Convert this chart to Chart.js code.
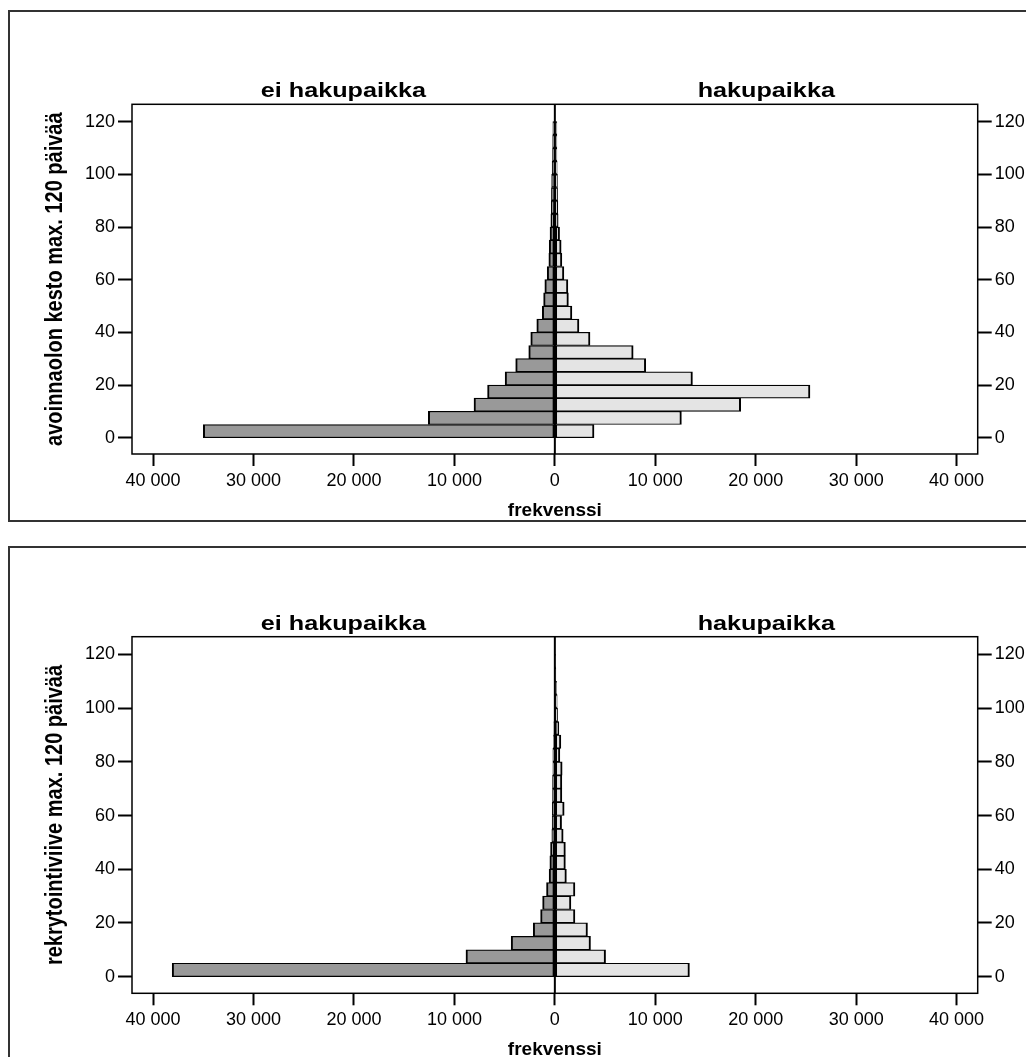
<!DOCTYPE html>
<html>
<head>
<meta charset="utf-8">
<script src="https://cdn.jsdelivr.net/npm/chart.js@4.4.1/dist/chart.umd.min.js"></script>
<style>
  html, body { margin: 0; padding: 0; background: #fff; overflow: hidden; }
  .panel { position: absolute; left: 8px; width: 1100px; border: 2px solid #333; background: #fff; }
  .panel canvas { display: block; }
</style>
</head>
<body>
<div class="panel" style="top:10px; height:508px"><canvas id="c1" width="1100" height="508"></canvas></div>
<div class="panel" style="top:546px; height:520px"><canvas id="c2" width="1100" height="520"></canvas></div>
<script>
// luokkien keskikohdat (päivää), luokan leveys 5
const binMid = [2.5, 7.5, 12.5, 17.5, 22.5, 27.5, 32.5, 37.5, 42.5, 47.5, 52.5, 57.5,
  62.5, 67.5, 72.5, 77.5, 82.5, 87.5, 92.5, 97.5, 102.5, 107.5, 112.5, 117.5];
const groupLabels = ["ei hakupaikka", "hakupaikka"];

// avoinnaolon kesto
const avoinEi = [35000, 12600, 8050, 6700, 4950, 3900, 2600, 2400, 1800, 1250, 1120, 1000,
  760, 600, 560, 480, 400, 360, 340, 320, 270, 230, 220, 200];
const avoinHaku = [3900, 12600, 18500, 25400, 13700, 9050, 7800, 3500, 2400, 1700, 1350, 1300,
  900, 700, 630, 470, 330, 300, 270, 260, 230, 200, 200, 200];

// rekrytointiviive
const rekryEi = [38100, 8850, 4350, 2150, 1420, 1220, 830, 570, 500, 430, 300, 270,
  260, 230, 230, 200, 200, 130, 100, 60, 40, 30, 40, 15];
const rekryHaku = [13400, 5050, 3550, 3250, 2000, 1600, 2000, 1150, 1050, 1050, 830, 670,
  930, 700, 700, 730, 500, 600, 400, 270, 230, 170, 100, 60];

const xTicks = [-40000, -30000, -20000, -10000, 0, 10000, 20000, 30000, 40000];
const yTicks = [0, 20, 40, 60, 80, 100, 120];

const FONT = '"Liberation Sans", Arial, Helvetica, sans-serif';

function fmt(v) {
  return String(Math.abs(v)).replace(/\B(?=(\d{3})+(?!\d))/g, " ");
}

// kehys, nollaviiva ja otsikot (SPSS-tyylinen leveä fontti)
const frame = {
  id: "frame",
  afterDatasetsDraw(chart, args, opts) {
    const { ctx, chartArea: a, scales } = chart;
    const x0 = scales.x.getPixelForValue(0);
    ctx.save();
    ctx.strokeStyle = "#000";
    ctx.lineWidth = 1.5;
    ctx.strokeRect(a.left, a.top, a.right - a.left, a.bottom - a.top);
    ctx.lineWidth = 2;
    ctx.beginPath();
    ctx.moveTo(x0, a.top);
    ctx.lineTo(x0, a.bottom);
    ctx.stroke();

    ctx.fillStyle = "#000";
    ctx.textAlign = "center";
    ctx.textBaseline = "alphabetic";
    ctx.font = "bold 20px " + FONT;
    const pos = [(a.left + x0) / 2, (x0 + a.right) / 2];
    groupLabels.forEach((t, i) => {
      ctx.save();
      ctx.translate(pos[i], a.top - 7);
      ctx.scale(1.26, 1);
      ctx.fillText(t, 0, 0);
      ctx.restore();
    });

    // y-akselin otsikko
    ctx.save();
    ctx.font = "bold 20px " + FONT;
    ctx.textBaseline = "middle";
    ctx.translate(46, (a.top + a.bottom) / 2);
    ctx.scale(1.15, 1);
    ctx.rotate(-Math.PI / 2);
    ctx.fillText(opts.yTitle, 0, 0);
    ctx.restore();
    ctx.restore();
  },
};

function yAxis(position) {
  return {
    type: "linear",
    position: position,
    min: -6.2,
    max: 126.6,
    stacked: true,
    offset: false,
    afterBuildTicks: (axis) => { axis.ticks = yTicks.map((v) => ({ value: v })); },
    afterFit: (axis) => { axis.width = position === "left" ? 122 : 60; },
    grid: { offset: false, drawOnChartArea: false, drawTicks: true, tickLength: 14, tickWidth: 2, tickColor: "#000" },
    border: { display: false },
    ticks: { color: "#000", padding: 3, font: { family: FONT, size: 18 }, callback: (v) => String(v) },
  };
}

function makeChart(id, yTitle, leftVals, rightVals, top, bottom) {
  new Chart(document.getElementById(id), {
    type: "bar",
    data: {
      datasets: [
        {
          label: groupLabels[0],
          data: binMid.map((y, i) => ({ y: y, x: -leftVals[i] })),
          backgroundColor: "#999999",
        },
        {
          label: groupLabels[1],
          data: binMid.map((y, i) => ({ y: y, x: rightVals[i] })),
          backgroundColor: "#e4e4e4",
        },
      ],
    },
    options: {
      indexAxis: "y",
      responsive: false,
      animation: false,
      layout: { padding: { top: top, left: 0, right: 72.3, bottom: bottom } },
      plugins: {
        legend: { display: false },
        tooltip: { enabled: false },
        frame: { yTitle: yTitle },
      },
      datasets: {
        bar: {
          categoryPercentage: 1,
          barPercentage: 1,
          borderColor: "#000",
          borderWidth: { top: 1.2, bottom: 1.2, left: 2, right: 2 },
          borderSkipped: false,
        },
      },
      scales: {
        y: yAxis("left"),
        y2: yAxis("right"),
        x: {
          type: "linear",
          min: -42100,
          max: 42100,
          stacked: true,
          afterBuildTicks: (axis) => { axis.ticks = xTicks.map((v) => ({ value: v })); },
          afterFit: (axis) => { axis.height = 66; },
          grid: { drawOnChartArea: false, drawTicks: true, tickLength: 12, tickWidth: 2, tickColor: "#000" },
          border: { display: false },
          ticks: { color: "#000", padding: 4, maxRotation: 0, font: { family: FONT, size: 18 }, callback: (v) => fmt(v) },
          title: {
            display: true,
            text: "frekvenssi",
            color: "#000",
            font: { family: FONT, size: 19, weight: "bold", lineHeight: 1 },
            padding: { top: 0, bottom: 0 },
          },
        },
      },
    },
    plugins: [frame],
  });
}

makeChart("c1", "avoinnaolon kesto max. 120 päivää", avoinEi, avoinHaku, 92.3, 0);
makeChart("c2", "rekrytointiviive max. 120 päivää", rekryEi, rekryHaku, 88.7, 8.7);
</script>
</body>
</html>
